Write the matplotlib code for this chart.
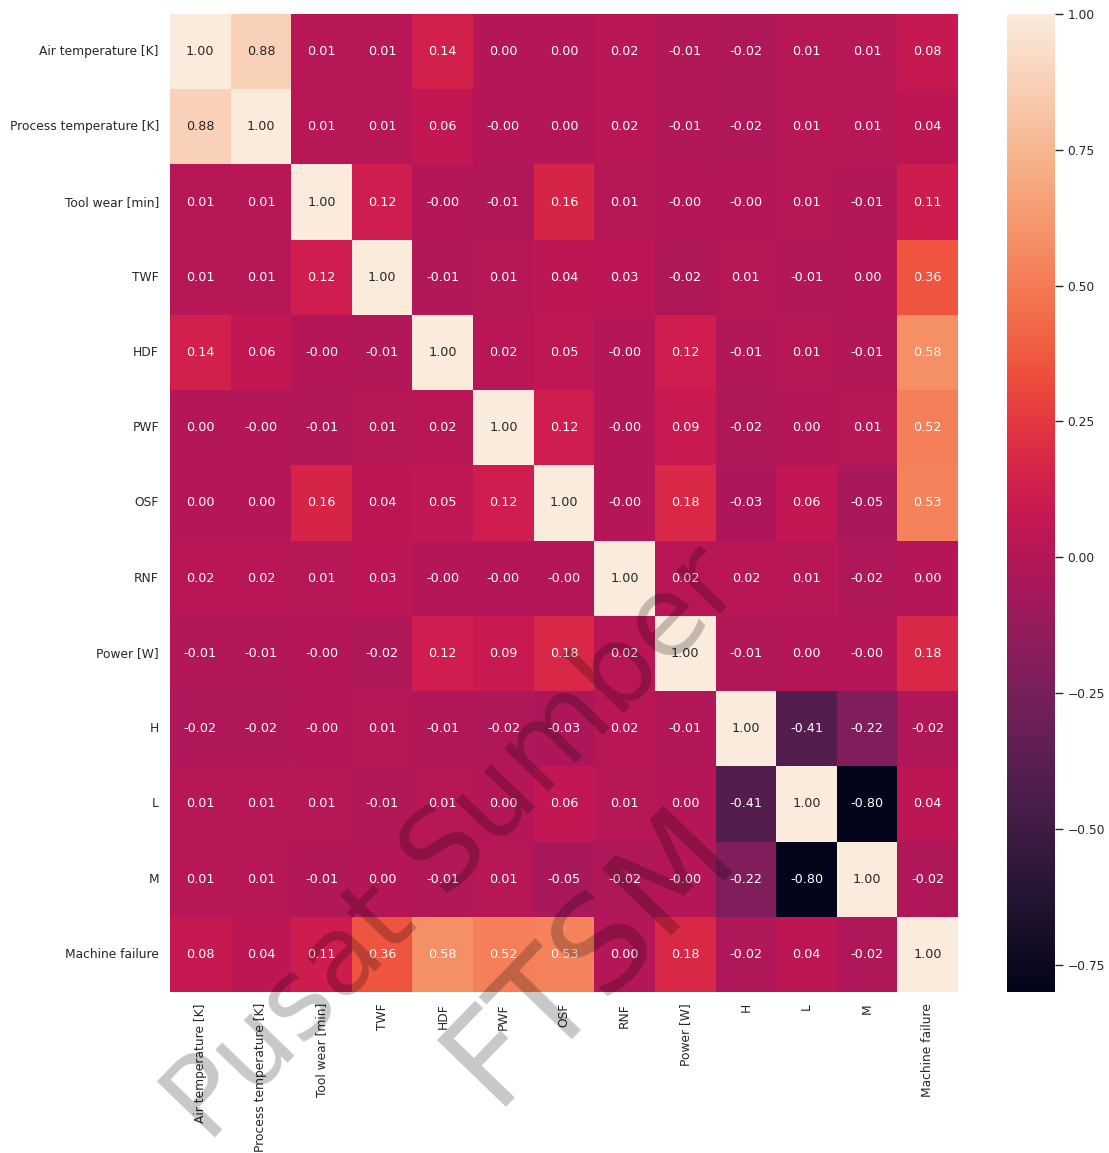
import numpy as np
import matplotlib
matplotlib.use("Agg")
import matplotlib.pyplot as plt
import seaborn as sns

labels = ["Air temperature [K]", "Process temperature [K]", "Tool wear [min]",
          "TWF", "HDF", "PWF", "OSF", "RNF", "Power [W]", "H", "L", "M",
          "Machine failure"]

# -0.001 marks values shown as "-0.00"
row_air   = [1.00, 0.88, 0.01, 0.01, 0.14, 0.00, 0.00, 0.02, -0.01, -0.02, 0.01, 0.01, 0.08]
row_proc  = [0.88, 1.00, 0.01, 0.01, 0.06, -0.001, 0.00, 0.02, -0.01, -0.02, 0.01, 0.01, 0.04]
row_tool  = [0.01, 0.01, 1.00, 0.12, -0.001, -0.01, 0.16, 0.01, -0.001, -0.001, 0.01, -0.01, 0.11]
row_twf   = [0.01, 0.01, 0.12, 1.00, -0.01, 0.01, 0.04, 0.03, -0.02, 0.01, -0.01, 0.00, 0.36]
row_hdf   = [0.14, 0.06, -0.001, -0.01, 1.00, 0.02, 0.05, -0.001, 0.12, -0.01, 0.01, -0.01, 0.58]
row_pwf   = [0.00, -0.001, -0.01, 0.01, 0.02, 1.00, 0.12, -0.001, 0.09, -0.02, 0.00, 0.01, 0.52]
row_osf   = [0.00, 0.00, 0.16, 0.04, 0.05, 0.12, 1.00, -0.001, 0.18, -0.03, 0.06, -0.05, 0.53]
row_rnf   = [0.02, 0.02, 0.01, 0.03, -0.001, -0.001, -0.001, 1.00, 0.02, 0.02, 0.01, -0.02, 0.00]
row_power = [-0.01, -0.01, -0.001, -0.02, 0.12, 0.09, 0.18, 0.02, 1.00, -0.01, 0.00, -0.001, 0.18]
row_h     = [-0.02, -0.02, -0.001, 0.01, -0.01, -0.02, -0.03, 0.02, -0.01, 1.00, -0.41, -0.22, -0.02]
row_l     = [0.01, 0.01, 0.01, -0.01, 0.01, 0.00, 0.06, 0.01, 0.00, -0.41, 1.00, -0.80, 0.04]
row_m     = [0.01, 0.01, -0.01, 0.00, -0.01, 0.01, -0.05, -0.02, -0.001, -0.22, -0.80, 1.00, -0.02]
row_mf    = [0.08, 0.04, 0.11, 0.36, 0.58, 0.52, 0.53, 0.00, 0.18, -0.02, 0.04, -0.02, 1.00]

corr = np.array([row_air, row_proc, row_tool, row_twf, row_hdf, row_pwf, row_osf,
                 row_rnf, row_power, row_h, row_l, row_m, row_mf])

cbar_ticks = [-0.75, -0.5, -0.25, 0.0, 0.25, 0.5, 0.75, 1.0]
cbar_labels = ["\u22120.75", "\u22120.50", "\u22120.25", "0.00", "0.25", "0.50", "0.75", "1.00"]

sns.set_theme()
plt.rcParams['font.family'] = ['DejaVu Sans']

fig = plt.figure(figsize=(11.09, 11.53), dpi=100)
W, H = 1109, 1153
ax = fig.add_axes([170 / W, 1 - 992 / H, (958 - 170) / W, (992 - 14) / H])
cax = fig.add_axes([1007 / W, 1 - 992 / H, (1055 - 1007) / W, (992 - 14) / H])

sns.heatmap(corr, annot=True, fmt=".2f", cmap="rocket", ax=ax, cbar_ax=cax,
            xticklabels=labels, yticklabels=labels,
            annot_kws={"fontsize": 9.2})

ax.tick_params(axis='both', length=0, labelsize=8.8, colors='#262626')
ax.tick_params(axis='x', pad=8)
ax.tick_params(axis='y', pad=8)
plt.setp(ax.get_xticklabels(), rotation=90)
plt.setp(ax.get_yticklabels(), rotation=0)

cax.tick_params(axis='y', length=6, width=1, color='#262626', labelsize=8.8,
                labelcolor='#262626', pad=3)
cax.set_yticks(cbar_ticks)
cax.set_yticklabels(cbar_labels)

# watermark
fig.text(455 / W, 1 - 845 / H, "Pusat Sumber", fontsize=80, color='black', alpha=0.22,
         rotation=46, ha='center', va='center', zorder=10)
fig.text(590 / W, 1 - 955 / H, "FTSM", fontsize=95, color='black', alpha=0.22,
         rotation=46, ha='center', va='center', zorder=10)

fig.savefig("out.png", dpi=100)
